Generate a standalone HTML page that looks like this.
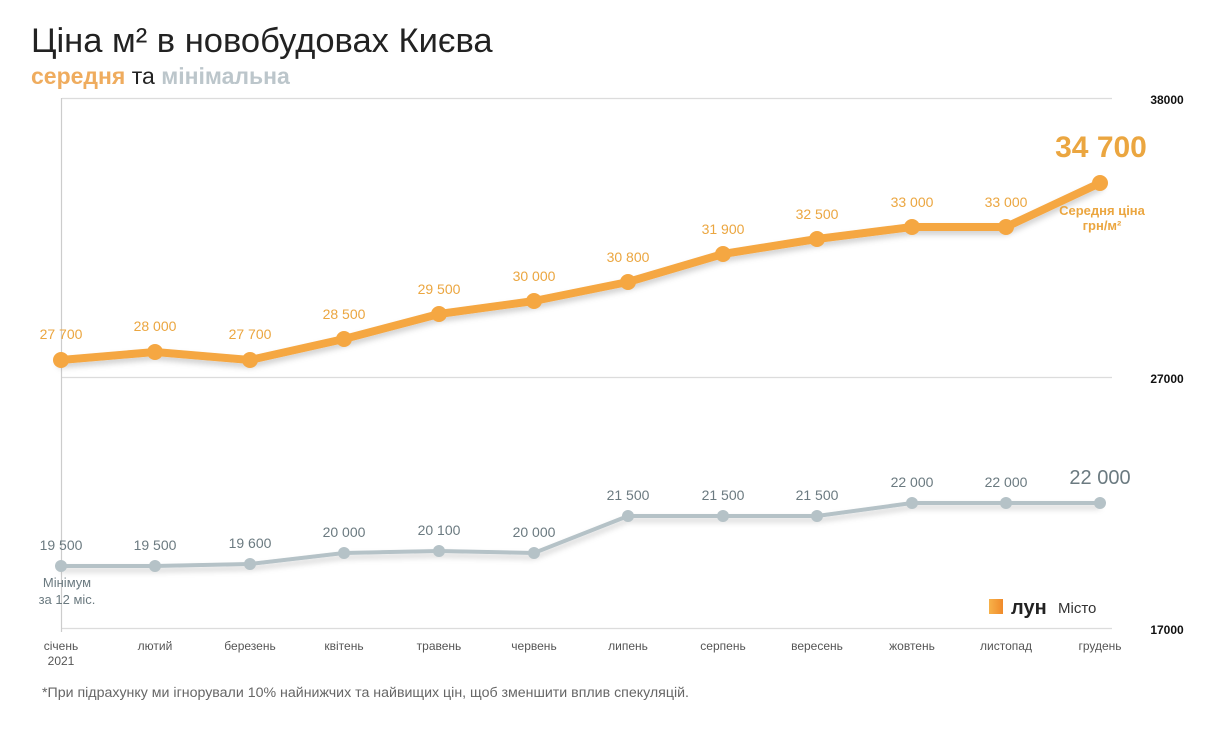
<!DOCTYPE html>
<html><head><meta charset="utf-8"><style>
body{margin:0;background:#fff;width:1216px;height:724px;overflow:hidden;font-family:"Liberation Sans",sans-serif}
</style></head><body>
<svg width="1216" height="724" xmlns="http://www.w3.org/2000/svg" font-family="Liberation Sans, sans-serif">
<defs><filter id="sh" x="-10%" y="-50%" width="120%" height="200%"><feDropShadow dx="0" dy="4" stdDeviation="3" flood-color="#000" flood-opacity="0.18"/></filter>
<linearGradient id="lg" x1="0" x2="1"><stop offset="0" stop-color="#f7b24a"/><stop offset="1" stop-color="#f08a2a"/></linearGradient></defs>
<text x="31" y="52" font-size="34.5" fill="#222">Ціна м² в новобудовах Києва</text>
<text x="31" y="84" font-size="23" font-weight="bold" fill="#efac5e">середня <tspan fill="#222" font-weight="normal">та</tspan> <tspan fill="#bcc6cb">мінімальна</tspan></text>
<g stroke="#dcdcdc" stroke-width="1.2">
<line x1="62" y1="98.5" x2="1112" y2="98.5"/><line x1="62" y1="377.5" x2="1112" y2="377.5"/><line x1="62" y1="628.5" x2="1112" y2="628.5"/>
<line x1="61.5" y1="98" x2="61.5" y2="632" stroke="#ccc"/></g>
<g font-size="12" font-weight="bold" fill="#111" text-anchor="middle"><text x="1167" y="104">38000</text><text x="1167" y="383">27000</text><text x="1167" y="634">17000</text></g>
<polyline filter="url(#sh)" fill="none" stroke="#b5c2c7" stroke-width="4" stroke-linejoin="round" points="61,566 155,566 250,564 344,553 439,551 534,553 628,516 723,516 817,516 912,503 1006,503 1100,503"/>
<g fill="#b5c2c7"><circle cx="61" cy="566" r="6"/><circle cx="155" cy="566" r="6"/><circle cx="250" cy="564" r="6"/><circle cx="344" cy="553" r="6"/><circle cx="439" cy="551" r="6"/><circle cx="534" cy="553" r="6"/><circle cx="628" cy="516" r="6"/><circle cx="723" cy="516" r="6"/><circle cx="817" cy="516" r="6"/><circle cx="912" cy="503" r="6"/><circle cx="1006" cy="503" r="6"/><circle cx="1100" cy="503" r="6"/></g>
<g font-size="14" fill="#6b7a80" text-anchor="middle"><text x="61" y="550">19 500</text><text x="155" y="550">19 500</text><text x="250" y="548">19 600</text><text x="344" y="537">20 000</text><text x="439" y="535">20 100</text><text x="534" y="537">20 000</text><text x="628" y="500">21 500</text><text x="723" y="500">21 500</text><text x="817" y="500">21 500</text><text x="912" y="487">22 000</text><text x="1006" y="487">22 000</text>
<text x="1100" y="484" font-size="20">22 000</text>
<text x="67" y="587" font-size="13">Мінімум</text><text x="67" y="604" font-size="13">за 12 міс.</text></g>
<polyline filter="url(#sh)" fill="none" stroke="#f5a742" stroke-width="8" stroke-linejoin="round" stroke-linecap="round" points="61,360 155,352 250,360 344,339 439,314 534,301 628,282 723,254 817,239 912,227 1006,227 1100,183"/>
<g fill="#f5a742"><circle cx="61" cy="360" r="8"/><circle cx="155" cy="352" r="8"/><circle cx="250" cy="360" r="8"/><circle cx="344" cy="339" r="8"/><circle cx="439" cy="314" r="8"/><circle cx="534" cy="301" r="8"/><circle cx="628" cy="282" r="8"/><circle cx="723" cy="254" r="8"/><circle cx="817" cy="239" r="8"/><circle cx="912" cy="227" r="8"/><circle cx="1006" cy="227" r="8"/><circle cx="1100" cy="183" r="8"/></g>
<g font-size="14" fill="#eba640" text-anchor="middle"><text x="61" y="339">27 700</text><text x="155" y="331">28 000</text><text x="250" y="339">27 700</text><text x="344" y="319">28 500</text><text x="439" y="294">29 500</text><text x="534" y="281">30 000</text><text x="628" y="262">30 800</text><text x="723" y="234">31 900</text><text x="817" y="219">32 500</text><text x="912" y="207">33 000</text><text x="1006" y="207">33 000</text>
<text x="1101" y="157" font-size="30" font-weight="bold">34 700</text>
<text x="1102" y="215" font-size="13" font-weight="bold">Середня ціна</text><text x="1102" y="230" font-size="13" font-weight="bold">грн/м²</text></g>
<g font-size="12" fill="#555" text-anchor="middle"><text x="61" y="650">січень</text><text x="61" y="665">2021</text><text x="155" y="650">лютий</text><text x="250" y="650">березень</text><text x="344" y="650">квітень</text><text x="439" y="650">травень</text><text x="534" y="650">червень</text><text x="628" y="650">липень</text><text x="723" y="650">серпень</text><text x="817" y="650">вересень</text><text x="912" y="650">жовтень</text><text x="1006" y="650">листопад</text><text x="1100" y="650">грудень</text></g>
<rect x="989" y="599" width="14" height="15" fill="url(#lg)"/>
<text x="1011" y="614" font-size="20" font-weight="bold" fill="#222">лун</text>
<text x="1058" y="613" font-size="15" fill="#333">Місто</text>
<text x="42" y="697" font-size="14.2" fill="#666">*При підрахунку ми ігнорували 10% найнижчих та найвищих цін, щоб зменшити вплив спекуляцій.</text>
</svg>
</body></html>
